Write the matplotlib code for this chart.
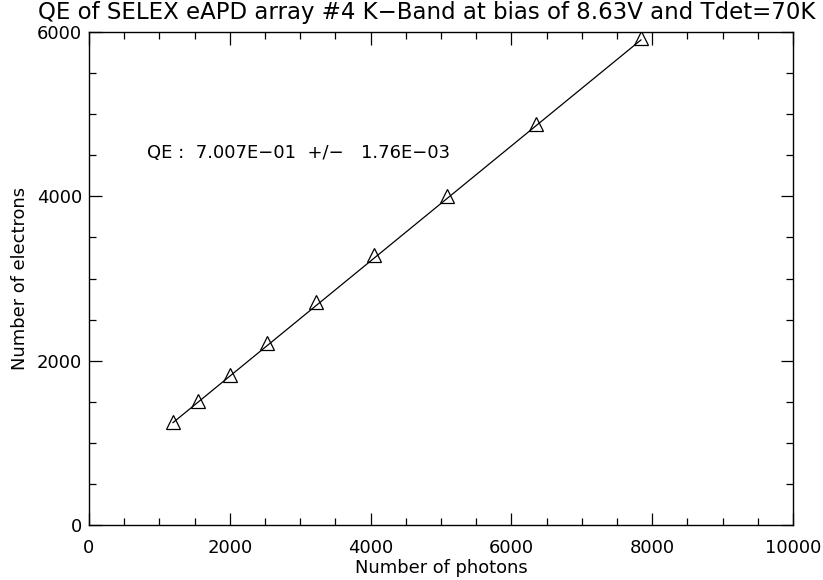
import matplotlib
matplotlib.use("Agg")
import matplotlib.pyplot as plt
import numpy as np
from matplotlib.ticker import MultipleLocator

photons = [1193, 1548, 2003, 2528, 3224, 4048, 5085, 6349, 7840]
electrons = [1253, 1508, 1825, 2214, 2713, 3285, 4002, 4878, 5924]
qe = 0.7007
qe_err = 0.00176
intercept = 410

title = "QE of SELEX eAPD array #4 K\u2212Band at bias of 8.63V and Tdet=70K"

plt.rcParams['font.family'] = ['DejaVu Sans']
fig = plt.figure(figsize=(8.23, 5.80), dpi=100)
ax = fig.add_axes([89/823, 1-525/580, (793-89)/823, (525-32)/580])

xs = np.array(photons, dtype=float)
ax.plot(xs, qe*xs + intercept, color='black', lw=0.9)
ax.plot(photons, electrons, linestyle='none', marker='^', markersize=10,
        markerfacecolor='none', markeredgecolor='black', markeredgewidth=0.9)

ax.set_xlim(0, 10000)
ax.set_ylim(0, 6000)
ax.xaxis.set_major_locator(MultipleLocator(2000))
ax.xaxis.set_minor_locator(MultipleLocator(500))
ax.yaxis.set_major_locator(MultipleLocator(2000))
ax.yaxis.set_minor_locator(MultipleLocator(500))
ax.tick_params(which='both', direction='in', top=True, right=True, width=0.9,
               labelsize=13)
ax.tick_params(axis='x', which='major', pad=10)
ax.tick_params(axis='y', which='major', pad=5)
ax.tick_params(which='major', length=9)
ax.tick_params(which='minor', length=5)
for s in ax.spines.values():
    s.set_linewidth(1.0)

ax.set_xlabel("Number of photons", fontsize=12.9, labelpad=0)
ax.set_ylabel("Number of electrons", fontsize=12.9, labelpad=6)
ax.yaxis.set_label_coords(-(89-20)/704, 0.5)
ax.xaxis.set_label_coords(0.5, -(568-525)/493)
ax.xaxis.label.set_va('center')
ax.yaxis.label.set_va('center')
fig.text(427/823, 1-12/580, title, ha='center', va='center', fontsize=16.5)

ax.text(820, 4525, f"QE :  {qe:.3E}  +/-   {qe_err:.2E}".replace('-', '\u2212'),
        fontsize=13, va='center', ha='left')

fig.savefig("out.png", dpi=100)
